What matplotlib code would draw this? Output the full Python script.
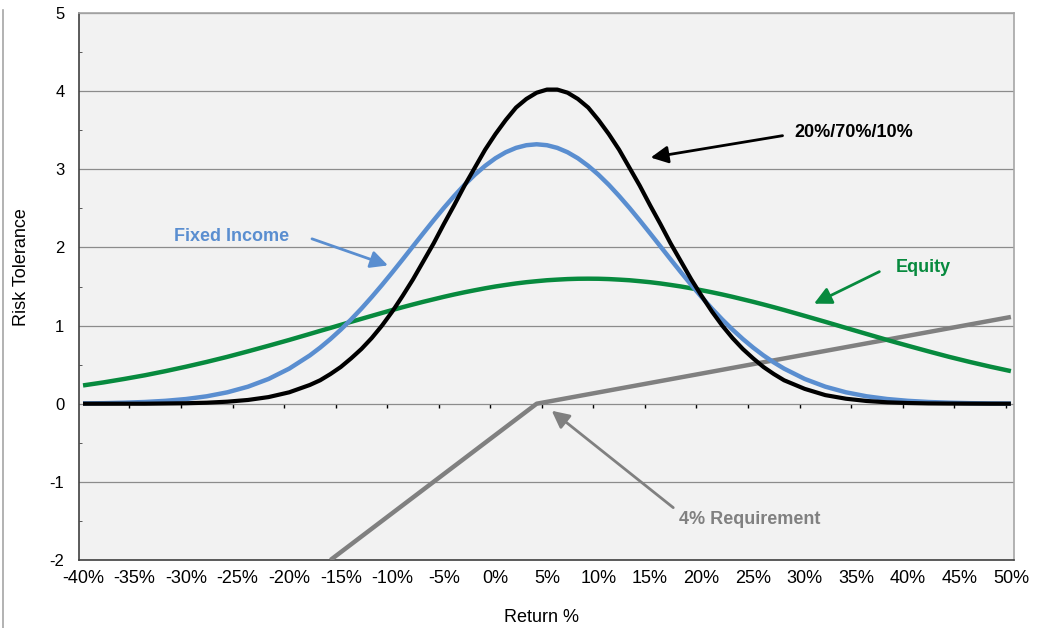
import matplotlib
matplotlib.use('Agg')
import matplotlib.pyplot as plt
from matplotlib.lines import Line2D

plt.rcParams['font.family'] = ['Liberation Sans', 'DejaVu Sans']
plt.rcParams['axes.unicode_minus'] = False

# return axis (%): every 2% in the tails, every 1% around the peaks
returns = list(range(-40, -17, 2)) + list(range(-17, 28)) + list(range(28, 51, 2))

# values
mix_202070 = [0.00, 0.00, 0.00, 0.00, 0.003, 0.006, 0.013, 0.026, 0.048, 0.085, 0.146, 0.24,
              0.30, 0.38, 0.47, 0.58, 0.70, 0.84, 1.00, 1.18, 1.38, 1.59, 1.82, 2.05, 2.30,
              2.54, 2.79, 3.02, 3.25, 3.45, 3.63, 3.79, 3.90, 3.98, 4.02, 4.02, 3.98, 3.90,
              3.79, 3.63, 3.45, 3.25, 3.02, 2.79, 2.54, 2.30, 2.05, 1.82, 1.59, 1.38, 1.18,
              1.00, 0.84, 0.70, 0.58, 0.47, 0.38,
              0.30, 0.19, 0.11, 0.064, 0.035, 0.018, 0.009, 0.004, 0.002, 0.001, 0.00, 0.00]
fixed_income = [0.004, 0.007, 0.013, 0.022, 0.037, 0.060, 0.095, 0.146, 0.218, 0.317, 0.449, 0.618,
                0.718, 0.828, 0.948, 1.078, 1.217, 1.365, 1.520, 1.681, 1.846, 2.014, 2.181,
                2.346, 2.506, 2.658, 2.801, 2.930, 3.044, 3.141, 3.218, 3.274, 3.308, 3.320,
                3.308, 3.274, 3.218, 3.141, 3.044, 2.930, 2.801, 2.658, 2.506, 2.346, 2.181,
                2.014, 1.846, 1.681, 1.520, 1.365, 1.217, 1.078, 0.948, 0.828, 0.718, 0.618, 0.529,
                0.449, 0.317, 0.218, 0.146, 0.095, 0.060, 0.037, 0.022, 0.013, 0.007, 0.004, 0.002]
equity = [0.234, 0.273, 0.317, 0.364, 0.417, 0.474, 0.535, 0.600, 0.670, 0.742, 0.816, 0.893,
          0.932, 0.970, 1.009, 1.048, 1.086, 1.124, 1.162, 1.199, 1.235, 1.270, 1.304, 1.336,
          1.368, 1.398, 1.426, 1.452, 1.477, 1.500, 1.520, 1.539, 1.555, 1.568, 1.580, 1.588,
          1.595, 1.599, 1.600, 1.599, 1.595, 1.588, 1.580, 1.568, 1.555, 1.539, 1.520, 1.500,
          1.477, 1.452, 1.426, 1.398, 1.368, 1.336, 1.304, 1.270, 1.235,
          1.199, 1.124, 1.048, 0.970, 0.893, 0.816, 0.742, 0.670, 0.600, 0.535, 0.474, 0.417]

# 4% requirement line
req_x = [-16, 4, 50]
req_y = [-2.0, 0.0, 1.11]

xtick_vals = list(range(-40, 51, 5))
xtick_labels = [str(v) + '%' for v in xtick_vals]
zero_ticks = [v - 0.5 for v in range(-35, 51, 5)]

blue = '#5A8ED0'
green = '#078A3E'
grey = '#808080'


def main():
    fig = plt.figure(figsize=(10.38, 6.28), dpi=100)
    ax = fig.add_axes([79 / 1038, 1 - 560 / 628, (1014 - 79) / 1038, (560 - 13) / 628])
    ax.set_facecolor('#F2F2F2')

    ax.plot(req_x, req_y, color=grey, lw=3.2, solid_capstyle='butt', zorder=3)
    ax.plot(returns, equity, color=green, lw=3.2, solid_capstyle='butt', zorder=4)
    ax.plot(returns, fixed_income, color=blue, lw=3.2, solid_capstyle='butt', zorder=5)
    ax.plot(returns, mix_202070, color='black', lw=3.0, solid_capstyle='butt', zorder=6)

    ax.set_xlim(-40.39, 50.3)
    ax.set_ylim(-2, 5)

    ax.set_yticks(range(-2, 6))
    ax.set_yticks([v + 0.5 for v in range(-2, 5)], minor=True)
    ax.yaxis.grid(True, color='#8C8C8C', lw=0.9)
    ax.set_axisbelow(True)
    ax.tick_params(axis='y', which='major', length=0, pad=10.5, labelsize=12)
    ax.tick_params(axis='y', which='minor', direction='in', length=2.5, color='#404040')

    ax.set_xticks(xtick_vals)
    ax.set_xticklabels(xtick_labels)
    ax.tick_params(axis='x', which='major', length=0, pad=7, labelsize=13)

    for side in ['top', 'right']:
        ax.spines[side].set_color('#A6A6A6')
        ax.spines[side].set_linewidth(1.2)
    for side in ['left', 'bottom']:
        ax.spines[side].set_color('#404040')
        ax.spines[side].set_linewidth(1.2)

    # tick marks sitting on the zero line
    sec = ax.secondary_xaxis(2 / 7)
    sec.set_xticks(zero_ticks)
    sec.tick_params(axis='x', direction='out', length=3, width=1, color='black', labelbottom=False)
    sec.spines['bottom'].set_visible(False)

    arrow = dict(arrowstyle='-|>', lw=2, mutation_scale=26, shrinkA=0, shrinkB=0)
    ax.annotate('', xy=(-10.42, 1.77), xytext=(-17.79, 2.11),
                arrowprops=dict(arrow, color=blue), zorder=7)
    ax.text(-25.55, 2.087, 'Fixed Income', color=blue, fontsize=13, fontweight='bold',
            ha='center', va='baseline')

    ax.annotate('', xy=(15.06, 3.15), xytext=(27.85, 3.43),
                arrowprops=dict(arrow, color='black'), zorder=7)
    ax.text(34.78, 3.41, '20%/70%/10%', color='black', fontsize=13, fontweight='bold',
            ha='center', va='baseline')

    ax.annotate('', xy=(30.9, 1.28), xytext=(37.24, 1.69),
                arrowprops=dict(arrow, color=green), zorder=7)
    ax.text(41.47, 1.69, 'Equity', color=green, fontsize=13, fontweight='bold',
            ha='center', va='baseline')

    ax.annotate('', xy=(5.46, -0.09), xytext=(17.25, -1.33),
                arrowprops=dict(arrow, color=grey), zorder=7)
    ax.text(24.71, -1.533, '4% Requirement', color=grey, fontsize=13, fontweight='bold',
            ha='center', va='baseline')

    fig.text(22 / 1038, 1 - 267 / 628, 'Risk Tolerance', rotation=90, fontsize=13,
             ha='center', va='center')
    fig.text(541 / 1038, 1 - 617 / 628, 'Return %', fontsize=13, ha='center', va='center')

    fig.add_artist(Line2D([3 / 1038, 3 / 1038], [0, 1 - 10 / 628], transform=fig.transFigure,
                          color='#A6A6A6', lw=1.2))

    fig.savefig('out.png', dpi=100)


if __name__ == '__main__':
    main()
